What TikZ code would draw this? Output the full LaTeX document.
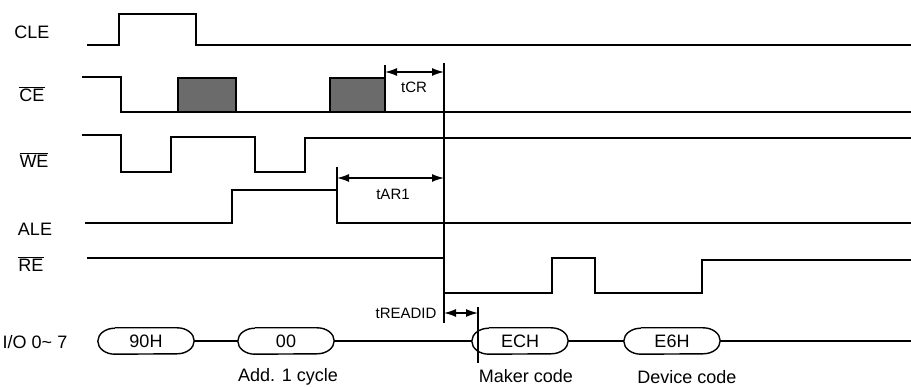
\documentclass[tikz,border=0pt]{standalone}
\usepackage{fontspec}
\setmainfont{Liberation Sans}
\usetikzlibrary{arrows.meta,positioning}

% bus value: node with elliptic ends
\newcommand{\busoval}[3]{%
  \node[busval] (#1) at (#2,341) {#3};
  \draw[line width=1.4pt] ([xshift=17pt]#1.north west) -- ([xshift=-17pt]#1.north east)
    arc[start angle=90,end angle=-90,x radius=17pt,y radius=13pt]
    -- ([xshift=17pt]#1.south west)
    arc[start angle=270,end angle=90,x radius=17pt,y radius=13pt];}

\begin{document}
\begin{tikzpicture}[x=1pt,y=-1pt,
  wave/.style={line width=1.6pt},
  sname/.style={font=\fontsize{18}{18}\selectfont},
  tname/.style={font=\fontsize{15}{15}\selectfont},
  busval/.style={inner sep=0pt,minimum width=96pt,minimum height=26pt,font=\fontsize{18}{18}\selectfont},
  dimarrow/.style={line width=1.4pt,{Latex[length=12pt,width=8pt]}-{Latex[length=12pt,width=8pt]}}]
\useasboundingbox (0,0) rectangle (911,387);

% signal names
\node[sname] (cle) at (32,32) {CLE};
\node[sname] (ce) at (32,94) {$\overline{\hbox{CE}}$};
\node[sname] (we) at (34,160) {$\overline{\hbox{WE}}$};
\node[sname] (ale) at (35,229) {ALE};
\node[sname] (re) at (31,264) {$\overline{\hbox{RE}}$};
\node[sname] (io) at (35,342) {I/O 0\textasciitilde\ 7};

% waveforms
\draw[wave] (87,45) -- (119,45) -- (119,14) -- (196,14) -- (196,45) -- (911,45);
\draw[wave] (82,77) -- (121,77) -- (121,112) -- (911,112);
\draw[wave,fill=black!58] (178,78) rectangle (236,112);
\draw[wave,fill=black!58] (330,78) rectangle (385,112);
\draw[wave] (82,135) -- (121,135) -- (121,172) -- (171,172) -- (171,137) -- (255,137)
  -- (255,172) -- (305,172) -- (305,138) -- (911,138);
\draw[wave] (85,223) -- (232,223) -- (232,190) -- (337,190) -- (337,223) -- (911,223);
\draw[wave] (87,258) -- (444,258) -- (444,293) -- (552,293) -- (552,258) -- (595,258)
  -- (595,293) -- (702,293) -- (702,260) -- (911,260);

% timing marks
\draw[wave] (444,63) -- (444,323);
\draw[wave] (385,65) -- (385,78);
\draw[dimarrow] (385,72) -- (444,72);
\node[tname] (tcr) at (414,87) {tCR};
\draw[wave] (337,167) -- (337,190);
\draw[dimarrow] (337,178) -- (444,178);
\node[tname] (tar) at (393,194) {tAR1};
\draw[wave] (478,307) -- (478,363);
\draw[dimarrow] (444,313) -- (478,313);
\node[tname,anchor=east] (trd) at (440,313) {tREADID};

% data bus
\busoval{b1}{146}{90H}
\busoval{b2}{286}{00}
\busoval{b3}{520}{ECH}
\busoval{b4}{672}{E6H}
\coordinate (bend) at (911,341);
\draw[wave] (b1) -- (b2);
\draw[wave] (b2) -- (b3);
\draw[wave] (b3) -- (b4);
\draw[wave] (b4) -- (bend);
\node[sname] (add) at (288,377) {Add. 1 cycle};
\node[sname] (maker) at (526,376) {Maker code};
\node[sname] (device) at (687,377) {Device code};
\end{tikzpicture}
\end{document}
